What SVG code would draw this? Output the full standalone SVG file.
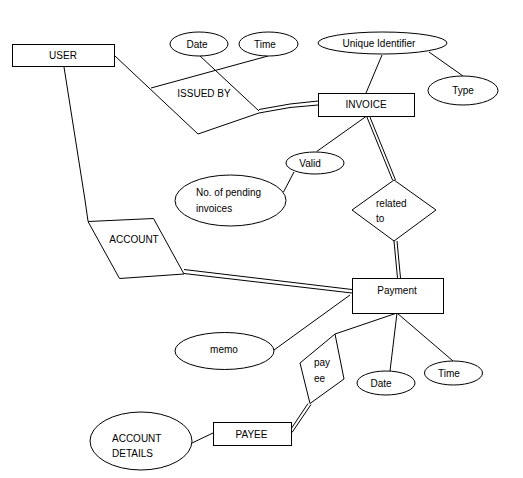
<svg xmlns="http://www.w3.org/2000/svg" width="523" height="478" viewBox="0 0 523 478">
<style>
rect.n,ellipse,polygon{fill:#fff;stroke:#000;stroke-width:1}
line,polyline{stroke:#000;stroke-width:1;fill:none}
text{font-family:"Liberation Sans",Arial,sans-serif;font-size:10px;fill:#000}
.m{text-anchor:middle}
</style>
<rect width="523" height="478" style="fill:#fff;stroke:none"/>
<g id="connectors">
<line x1="115" y1="56" x2="198" y2="134"/>
<line x1="198" y1="134" x2="259" y2="113"/>
<line x1="151" y1="88" x2="268" y2="56"/>
<line x1="200" y1="56" x2="259" y2="111"/>
<polyline points="259,109.5 290,104 318,101"/>
<polyline points="259,113 290,107.5 318,105"/>
<line x1="382" y1="55" x2="366" y2="93"/>
<line x1="429" y1="52" x2="463" y2="76"/>
<line x1="366.7" y1="116" x2="316.7" y2="151.5"/>
<line x1="294" y1="172" x2="283.5" y2="192"/>
<line x1="366.5" y1="116" x2="392.5" y2="180"/>
<line x1="369.5" y1="116" x2="395.5" y2="180"/>
<line x1="394" y1="241" x2="397.5" y2="278"/>
<line x1="397" y1="241" x2="400.5" y2="278"/>
<polyline points="64,67 85,200 88,221"/>
<line x1="184" y1="269.5" x2="352" y2="289.5"/>
<line x1="184" y1="273.5" x2="352" y2="293"/>
<line x1="350" y1="295" x2="274" y2="350"/>
<line x1="397" y1="313" x2="335" y2="334"/>
<line x1="397" y1="313" x2="390" y2="371"/>
<line x1="397" y1="313" x2="453" y2="361"/>
<line x1="308" y1="403.5" x2="290" y2="430.5"/>
<line x1="311" y1="404.5" x2="292" y2="432.5"/>
<line x1="192" y1="443" x2="213" y2="433"/>
</g>
<g id="user"><rect class="n" x="12.5" y="44.5" width="102" height="22"/><text class="m" x="63" y="58.5">USER</text></g>
<g id="date1"><ellipse cx="199" cy="44" rx="29" ry="12"/><text class="m" x="197" y="47.5">Date</text></g>
<g id="time1"><ellipse cx="268.5" cy="44" rx="29.5" ry="12"/><text class="m" x="265" y="47.5">Time</text></g>
<g id="issued-by"><text class="m" x="204" y="96.5">ISSUED BY</text></g>
<g id="invoice"><rect class="n" x="318.5" y="93.5" width="96" height="23"/><text class="m" x="366" y="107.5">INVOICE</text></g>
<g id="unique-identifier"><ellipse cx="382.5" cy="43" rx="64.5" ry="11"/><text class="m" x="379" y="46.5">Unique Identifier</text></g>
<g id="type"><ellipse cx="463" cy="90.5" rx="35" ry="14.5"/><text class="m" x="463" y="94">Type</text></g>
<g id="valid"><ellipse cx="315" cy="163" rx="29" ry="11"/><text class="m" x="310" y="166.5">Valid</text></g>
<g id="pending"><ellipse cx="230.5" cy="200.5" rx="55.5" ry="25.5"/><text x="196" y="195.5">No. of pending</text><text x="196" y="211.5">invoices</text></g>
<g id="related-to"><polygon points="394,180 436,210 394,241 352,210"/><text x="376" y="207">related</text><text x="376" y="222">to</text></g>
<g id="account"><polygon points="88,221.5 153.5,218.5 184,274 119.5,278.5"/><text class="m" x="134" y="243">ACCOUNT</text></g>
<g id="payment"><rect class="n" x="352.5" y="278.5" width="91" height="35"/><text class="m" x="397" y="293.5">Payment</text></g>
<g id="memo"><ellipse cx="224.5" cy="351" rx="49.5" ry="18.5"/><text class="m" x="224" y="352.5">memo</text></g>
<g id="payee-rel"><polygon points="335,334 344,379 310,403.5 300,363"/><text x="314" y="366">pay</text><text x="314" y="382">ee</text></g>
<g id="date2"><ellipse cx="386" cy="383" rx="29" ry="12"/><text class="m" x="381" y="386.5">Date</text></g>
<g id="time2"><ellipse cx="453.5" cy="373" rx="29" ry="12"/><text class="m" x="449" y="376.5">Time</text></g>
<g id="payee"><rect class="n" x="213.5" y="422.5" width="78" height="23"/><text class="m" x="251.5" y="437.5">PAYEE</text></g>
<g id="account-details"><ellipse cx="141" cy="441" rx="51" ry="29"/><text x="112" y="441.5">ACCOUNT</text><text x="112" y="457">DETAILS</text></g>
</svg>
